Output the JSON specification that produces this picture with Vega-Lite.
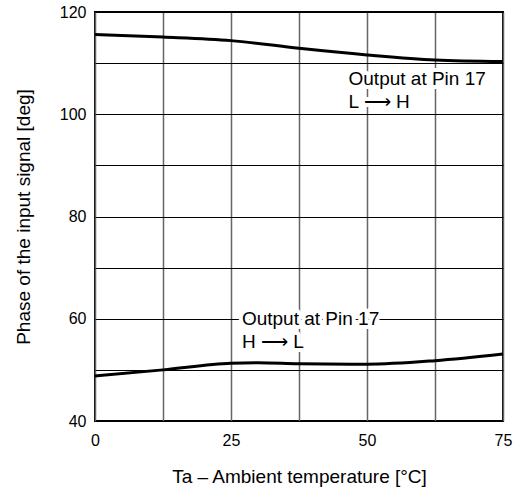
{
  "$schema": "https://vega.github.io/schema/vega-lite/v6.json",
  "autosize": "none",
  "width": 408,
  "height": 409,
  "padding": {"left": 95, "top": 12, "right": 17, "bottom": 73},
  "config": {
    "font": "Liberation Sans",
    "view": {"stroke": "black", "strokeWidth": 2},
    "axis": {"labelFont": "Liberation Sans", "titleFont": "Liberation Sans", "labelFontSize": 16, "titleFontSize": 19, "titleFontWeight": "normal", "labelColor": "black", "titleColor": "black", "domain": false, "ticks": false}
  },
  "datasets": {
    "curves": [
      {"t": 0, "phase": 115.6, "series": "LH"},
      {"t": 12.5, "phase": 115.1, "series": "LH"},
      {"t": 25, "phase": 114.4, "series": "LH"},
      {"t": 37.5, "phase": 112.9, "series": "LH"},
      {"t": 50, "phase": 111.6, "series": "LH"},
      {"t": 62.5, "phase": 110.6, "series": "LH"},
      {"t": 75, "phase": 110.3, "series": "LH"},
      {"t": 0, "phase": 48.8, "series": "HL"},
      {"t": 12.5, "phase": 50.0, "series": "HL"},
      {"t": 25, "phase": 51.3, "series": "HL"},
      {"t": 30, "phase": 51.4, "series": "HL"},
      {"t": 37.5, "phase": 51.2, "series": "HL"},
      {"t": 50, "phase": 51.1, "series": "HL"},
      {"t": 62.5, "phase": 51.8, "series": "HL"},
      {"t": 75, "phase": 53.1, "series": "HL"}
    ],
    "labels": [
      {"t": 46.6, "phase": 105.8, "text": "Output at Pin 17\nL ⟶ H"},
      {"t": 27.0, "phase": 58.7, "text": "Output at Pin 17\nH ⟶ L"}
    ]
  },
  "layer": [
    {
      "data": {"name": "curves"},
      "mark": {"type": "line", "color": "black", "strokeWidth": 3, "interpolate": "monotone"},
      "encoding": {
        "x": {"field": "t", "type": "quantitative", "scale": {"domain": [0, 75], "nice": false},
          "axis": {"title": "Ta – Ambient temperature [°C]", "values": [0, 12.5, 25, 37.5, 50, 62.5, 75], "labelExpr": "datum.value % 25 === 0 ? datum.label : ''", "grid": true, "gridColor": "#666666", "gridWidth": 1.5, "gridOpacity": 1, "labelPadding": 11, "titlePadding": 19, "labelFlush": false}},
        "y": {"field": "phase", "type": "quantitative", "scale": {"domain": [40, 120], "nice": false},
          "axis": {"title": "Phase of the input signal [deg]", "values": [40, 50, 60, 70, 80, 90, 100, 110, 120], "labelExpr": "datum.value % 20 === 0 ? datum.label : ''", "grid": true, "gridColor": "black", "gridWidth": 1, "gridOpacity": 1, "labelPadding": 9, "titlePadding": 26, "labelFlush": false}},
        "detail": {"field": "series"}
      }
    },
    {
      "data": {"name": "labels"},
      "mark": {"type": "text", "align": "left", "baseline": "alphabetic", "fontSize": 19, "lineBreak": "\n", "lineHeight": 23, "stroke": "white", "strokeWidth": 8, "strokeJoin": "round", "color": "white"},
      "encoding": {
        "x": {"field": "t", "type": "quantitative"},
        "y": {"field": "phase", "type": "quantitative"},
        "text": {"field": "text"}
      }
    },
    {
      "data": {"name": "labels"},
      "mark": {"type": "text", "align": "left", "baseline": "alphabetic", "fontSize": 19, "lineBreak": "\n", "lineHeight": 23, "color": "black"},
      "encoding": {
        "x": {"field": "t", "type": "quantitative"},
        "y": {"field": "phase", "type": "quantitative"},
        "text": {"field": "text"}
      }
    }
  ]
}
